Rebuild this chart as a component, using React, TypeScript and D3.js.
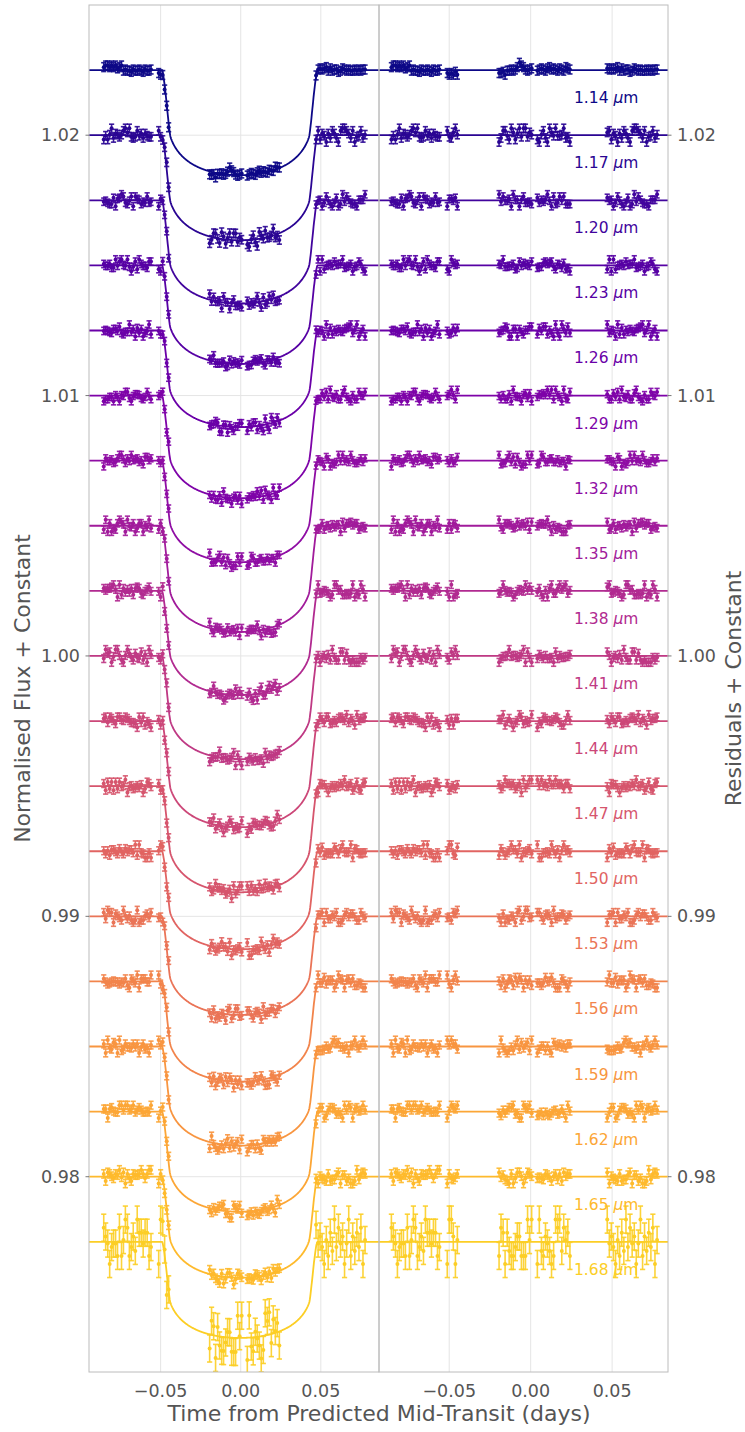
import React, { useMemo } from 'react';
import * as d3 from 'd3';

const WAVELENGTHS = ['1.14','1.17','1.20','1.23','1.26','1.29','1.32','1.35','1.38','1.41','1.44','1.47','1.50','1.53','1.56','1.59','1.62','1.65','1.68'];
const DEPTH_PPM = [4030,4030,3955,3780,3705,3935,3895,4070,3995,3955,4070,4070,3760,3780,3840,3800,3840,3875,3685];
const SIGMA_PPM = [170,160,140,140,140,135,135,140,145,150,150,150,150,145,150,150,150,160,520];
const TOP_BASELINE = 1.0225;
const BASELINE_STEP = 0.0025;

const TIMES = [
  -0.0855,-0.0843,-0.0830,-0.0818,-0.0806,-0.0794,-0.0781,-0.0769,-0.0757,-0.0744,-0.0732,-0.0720,-0.0707,-0.0695,-0.0683,-0.0671,-0.0658,-0.0646,-0.0634,-0.0621,-0.0609,-0.0597,-0.0584,-0.0572,-0.0560,
  -0.0512,-0.0500,-0.0487,-0.0475,-0.0462,-0.0450,
  -0.0194,-0.0182,-0.0169,-0.0157,-0.0144,-0.0132,-0.0119,-0.0107,-0.0094,-0.0082,-0.0069,-0.0057,-0.0044,-0.0032,-0.0019,-0.0007,0.0006,
  0.0041,0.0053,0.0066,0.0078,0.0091,0.0103,0.0116,0.0128,0.0141,0.0153,0.0166,0.0178,0.0191,0.0203,0.0216,0.0228,0.0241,
  0.0470,0.0483,0.0495,0.0508,0.0521,0.0534,0.0546,0.0559,0.0572,0.0585,0.0597,0.0610,0.0623,0.0636,0.0648,0.0661,0.0674,0.0687,0.0699,0.0712,0.0725,0.0738,0.0750,0.0763,0.0776,
];

// residuals in units of sigma, as decile codes (0..9)
const RESID_CODES = [
  '7887878678 4544354454 3544521213 1223144545 7987545645 6546756546 5476565656 7464553465 4544545455',
  '1415926535 8979323846 2643383279 5028841971 6939937510 5820974944 5923078164 0628620899 8628034825',
  '3421170679 8214808651 3282306647 0938446095 5058223172 5359408128 4811174502 8410270193 8521105559',
  '6446229489 5493038196 4428810975 6659334461 2847564823 3786783165 2712019091 4564856692 3460348610',
  '4543266482 1339360726 0249141273 7245870066 0631558817 4881520920 9628292540 9171536436 7892590360',
  '0113305305 4882046652 1384146951 9415116094 3305727036 5759591953 0921861173 8193261179 3105118548',
  '0744623799 6274956735 1885752724 8912279381 8301194912 9833673362 4406566430 8602139494 6395224737',
  '1907021798 6094370277 0539217176 2931767523 8467481846 7669405132 0005681271 4526356082 7785771342',
  '7577896091 7363717872 1468440901 2249534301 4654958537 1050792279 6892589235 4201995611 2129021960',
  '2978049951 0597317328 1609631859 5024459455 3469083026 4252230825 3344685035 2619311881 7101000313',
  '7838752886 5875332083 8142061717 7669147303 5982534904 2875546873 1159562863 8823537875 9375195778',
  '7182818284 5904523536 0287471352 6624977572 4709369995 9574966967 6277240766 3035354759 4571382178',
  '5251664274 2746639193 2003059921 8174135966 2904357290 0334295260 5956307381 3232862794 3490763233',
  '8298807531 9525101901 1573834187 9307021540 8914993488 4167509244 7614606680 8226480016 8477411853',
  '7423454424 3710753907 7744992069 5517027618 3860626133 1384583000 7520449338 2656029760 6737113200',
  '7093287091 2744374704 7230696977 2093101416 9283681902 5515108657 4637721112 5238978442 5056953696',
  '7707854499 6996794686 4454905987 9316368892 3009879312 4142135623 7309504880 1688724209 6980785696',
  '7187537694 8073176679 7379907324 7846210703 8850387534 3276415727 1857780532 1712268066 1300192787',
  '8640344181 5981362977 4771309960 5187072113 6611195909 2164201989 2857194630 5172938460 4916273805',
];
const CODE_TO_SIGMA = [-1.64,-1.04,-0.67,-0.39,-0.13,0.13,0.39,0.67,1.04,1.64];

const Y_TICKS = [0.98, 0.99, 1.00, 1.01, 1.02];
const X_TICKS = [-0.05, 0.0, 0.05];

// transit geometry (shared)
const U1 = 0.4, U2 = 0.2;
const T_CENTER = -0.0006;
const HALF_T14 = 0.0487;
const K_REF = 0.06;

const W = 745, H = 1432;
const TOP = 5, BOTTOM = 1372;
const L0 = 89, MID = 379, R1 = 668;
const FONT = 'DejaVu Sans, sans-serif';
const GRAY = '#555555';

const I_MEAN = 1 - U1 / 3 - U2 / 6;
const VEL = (1 + K_REF) / HALF_T14;

function intensity(r2: number) {
  const mu = Math.sqrt(1 - r2);
  return 1 - U1 * (1 - mu) - U2 * (1 - mu) * (1 - mu);
}

function deficit(t: number, k: number) {
  const z = Math.abs(t - T_CENTER) * VEL;
  if (z >= 1 + k) return 0;
  const N = 36;
  const step = (2 * k) / N;
  let sum = 0;
  for (let i = 0; i < N; i++) {
    const dx = -k + (i + 0.5) * step;
    for (let j = 0; j < N; j++) {
      const dy = -k + (j + 0.5) * step;
      if (dx * dx + dy * dy > k * k) continue;
      const sx = z + dx;
      const r2 = sx * sx + dy * dy;
      if (r2 >= 1) continue;
      sum += intensity(r2);
    }
  }
  return (sum * step * step) / (Math.PI * I_MEAN);
}

export default function App() {
  const xL = d3.scaleLinear().domain([-0.0947, 0.0863]).range([L0, MID]);
  const xR = d3.scaleLinear().domain([-0.0931, 0.0843]).range([MID, R1]);
  const y = d3.scaleLinear().domain([0.9725, 1.025]).range([BOTTOM, TOP]);
  const color = (i: number) => d3.interpolatePlasma(i / 20);
  const fmtY = d3.format('.2f');
  const fmtX = d3.format('.2f');

  const curves = useMemo(() => {
    return WAVELENGTHS.map((wl, i) => {
      const k = Math.sqrt((DEPTH_PPM[i] * 1e-6) * I_MEAN);
      const base = TOP_BASELINE - BASELINE_STEP * i;
      const sig = SIGMA_PPM[i] * 1e-6;
      const codes = RESID_CODES[i].replace(/\s/g, '');
      const pts = TIMES.map((t, j) => {
        const c = codes.charCodeAt(j) - 48;
        const r = (c >= 0 && c <= 9 ? CODE_TO_SIGMA[c] : 0) * sig;
        return { t, flux: base - deficit(t, k) + r, res: base + r, sig };
      });
      const [d0, d1] = xL.domain();
      const model: [number, number][] = [];
      const n = 700;
      for (let s = 0; s <= n; s++) {
        const t = d0 + ((d1 - d0) * s) / n;
        model.push([t, base - deficit(t, k)]);
      }
      return { wl, base, pts, model };
    });
  }, []);

  const lineL = d3.line<[number, number]>().x((d) => xL(d[0])).y((d) => y(d[1]));

  const errBar = (cx: number, f: number, s: number, col: string, key: string) => {
    const y1 = y(f + s), y2 = y(f - s), cy = y(f);
    return (
      <g key={key} stroke={col} fill={col} strokeOpacity={0.9}>
        <line x1={cx} x2={cx} y1={y1} y2={y2} strokeWidth={1.6} />
        <line x1={cx - 2.6} x2={cx + 2.6} y1={y1} y2={y1} strokeWidth={1.6} />
        <line x1={cx - 2.6} x2={cx + 2.6} y1={y2} y2={y2} strokeWidth={1.6} />
        <circle cx={cx} cy={cy} r={2} stroke="none" />
      </g>
    );
  };

  return (
    <svg width={W} height={H} style={{ position: 'absolute', left: 0, top: 0, background: '#fff' }} fontFamily={FONT}>
      <defs>
        <clipPath id="clipL"><rect x={L0} y={TOP} width={MID - L0} height={BOTTOM - TOP} /></clipPath>
        <clipPath id="clipR"><rect x={MID} y={TOP} width={R1 - MID} height={BOTTOM - TOP} /></clipPath>
      </defs>
      <rect x={0} y={0} width={W} height={H} fill="#fff" />
      {/* grids */}
      <g stroke="#e5e5e5" strokeWidth={1}>
        {Y_TICKS.map((v) => (
          <g key={'gy' + v}>
            <line x1={L0} x2={MID} y1={y(v)} y2={y(v)} />
            <line x1={MID} x2={R1} y1={y(v)} y2={y(v)} />
          </g>
        ))}
        {X_TICKS.map((v) => (
          <g key={'gx' + v}>
            <line x1={xL(v)} x2={xL(v)} y1={TOP} y2={BOTTOM} />
            <line x1={xR(v)} x2={xR(v)} y1={TOP} y2={BOTTOM} />
          </g>
        ))}
      </g>
      {/* left panel */}
      <g clipPath="url(#clipL)">
        {curves.map((c, i) => (
          <g key={'L' + i}>
            {c.pts.map((p, j) => errBar(xL(p.t), p.flux, p.sig, color(i), `l${i}-${j}`))}
            <path d={lineL(c.model) || ''} fill="none" stroke={color(i)} strokeWidth={1.8} />
          </g>
        ))}
      </g>
      {/* right panel */}
      <g clipPath="url(#clipR)">
        {curves.map((c, i) => (
          <g key={'R' + i}>
            {c.pts.map((p, j) => errBar(xR(p.t), p.res, p.sig, color(i), `r${i}-${j}`))}
            <line x1={MID} x2={R1} y1={y(c.base)} y2={y(c.base)} stroke={color(i)} strokeWidth={1.8} />
          </g>
        ))}
      </g>
      {/* wavelength labels */}
      {curves.map((c, i) => (
        <text key={'wl' + i} x={574} y={y(c.base) + 33} fontSize={15.5} fill={color(i)}>
          {c.wl + ' '}<tspan fontStyle="italic">μ</tspan>m
        </text>
      ))}
      {/* spines */}
      <g stroke="#bcbcbc" strokeWidth={1} fill="none">
        <rect x={L0} y={TOP} width={MID - L0} height={BOTTOM - TOP} />
        <rect x={MID} y={TOP} width={R1 - MID} height={BOTTOM - TOP} />
      </g>
      {/* y ticks */}
      {Y_TICKS.map((v) => (
        <g key={'ty' + v}>
          <line x1={L0 - 3.5} x2={L0} y1={y(v)} y2={y(v)} stroke={GRAY} strokeWidth={0.8} />
          <text x={L0 - 9} y={y(v)} dy="0.35em" textAnchor="end" fontSize={17.5} fill={GRAY}>{fmtY(v)}</text>
          <line x1={R1} x2={R1 + 3.5} y1={y(v)} y2={y(v)} stroke={GRAY} strokeWidth={0.8} />
          <text x={R1 + 9} y={y(v)} dy="0.35em" textAnchor="start" fontSize={17.5} fill={GRAY}>{fmtY(v)}</text>
        </g>
      ))}
      {/* x ticks */}
      {X_TICKS.map((v) => (
        <g key={'tx' + v}>
          <text x={xL(v)} y={1397} textAnchor="middle" fontSize={17.5} fill={GRAY}>{fmtX(v)}</text>
          <text x={xR(v)} y={1397} textAnchor="middle" fontSize={17.5} fill={GRAY}>{fmtX(v)}</text>
        </g>
      ))}
      {/* axis labels */}
      <text x={379} y={1421} textAnchor="middle" fontSize={22} fill={GRAY}>Time from Predicted Mid-Transit (days)</text>
      <text transform={`translate(30, ${(TOP + BOTTOM) / 2}) rotate(-90)`} textAnchor="middle" fontSize={22} fill={GRAY}>Normalised Flux + Constant</text>
      <text transform={`translate(741, ${(TOP + BOTTOM) / 2}) rotate(-90)`} textAnchor="middle" fontSize={22} fill={GRAY}>Residuals + Constant</text>
    </svg>
  );
}
